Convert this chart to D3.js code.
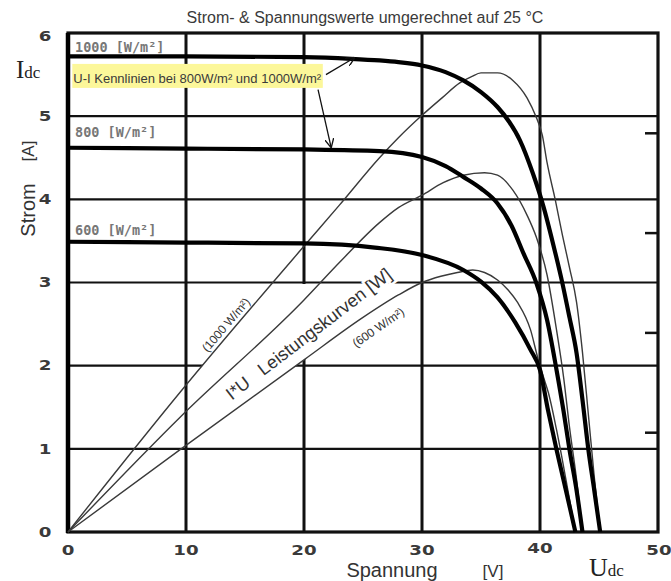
<!DOCTYPE html>
<html>
<head>
<meta charset="utf-8">
<script src="https://cdn.jsdelivr.net/npm/d3@7"></script>
<style>
body { margin: 0; background: #fff; }
</style>
</head>
<body>
<div id="chart"></div>
<script>
// tick values
var uTicks = [0, 10, 20, 30, 40, 50];
var iTicks = [0, 1, 2, 3, 4, 5, 6];
var pTicks = [40, 80, 120, 160];

// U-I Kennlinien [V, A]
var ui1000 = [[0,5.72],[10,5.72],[20,5.71],[24,5.69],[26.4,5.67],[28,5.65],[30,5.61],[32,5.53],[33.5,5.43],[35,5.29],[36.4,5.11],[37.4,4.93],[38.3,4.71],[39.4,4.31],[40.3,3.91],[41.1,3.47],[41.9,2.99],[42.5,2.58],[43.1,2.15],[43.6,1.59],[44.1,0.99],[44.6,0.5],[45.1,0]];
var ui800 = [[0,4.62],[10,4.61],[20,4.60],[26.4,4.58],[30,4.51],[32,4.40],[33.5,4.27],[35,4.13],[36.4,3.95],[37.6,3.68],[38.6,3.35],[39.7,2.99],[40.6,2.55],[41.4,1.95],[42,1.45],[42.5,0.99],[43.1,0.5],[43.6,0]];
var ui600 = [[0,3.49],[10,3.48],[20,3.47],[26,3.42],[30,3.33],[33.5,3.15],[35,3.01],[36.4,2.82],[37.9,2.52],[39.2,2.19],[40,1.95],[40.7,1.45],[41.4,0.99],[42.2,0.5],[43,0]];

// Leistungskurven [V, W]
var p1000 = [[0,0],[9.5,56],[19.9,114],[23,131],[26.4,150],[28,158],[30,167],[31.7,174],[33.2,180],[34.2,182.5],[35,184],[36.4,184],[37.7,181],[38.9,174],[39.7,166],[40.2,159],[40.6,148],[41.3,133],[41.9,119],[42.5,106],[43.1,92],[43.6,72],[44.1,47],[44.6,22],[45.1,0]];
var p800 = [[0,0],[9.5,46],[20,93],[23,108],[26.4,124],[28,130],[30,135],[31.8,140],[33.5,143],[35.3,144],[36.4,143],[37.7,137],[38.9,127],[39.7,118],[40.6,103],[41.4,81],[42,62],[42.5,42],[43.1,21],[43.6,0]];
var p600 = [[0,0],[9.5,33],[20,69],[25,86],[28,95],[30,100],[31.6,102.5],[33,104],[34.3,105],[35.3,104],[36.4,101],[37.3,97],[38.1,92],[39.2,81],[39.8,70],[40.3,62],[40.7,56],[41.4,41],[42.2,21],[43,0]];

var width = 671, height = 581;

var svg = d3.select("#chart").append("svg")
    .attr("width", width)
    .attr("height", height)
    .style("font-family", "'Liberation Sans', Arial, sans-serif");

var x = d3.scaleLinear().domain([0, 50]).range([68, 658]);
var y = d3.scaleLinear().domain([0, 6]).range([532, 33]);
var yP = d3.scaleLinear().domain([0, 200]).range([532, 33]);

// title
svg.append("text")
    .attr("x", 365).attr("y", 23)
    .attr("text-anchor", "middle")
    .style("font-size", "16px")
    .attr("fill", "#3a3a3a")
    .text("Strom- & Spannungswerte umgerechnet auf 25 °C");

// grid
svg.selectAll(".vgrid")
    .data(uTicks.slice(1, 5))
    .join("line")
    .attr("x1", function(d){ return x(d); }).attr("x2", function(d){ return x(d); })
    .attr("y1", y(0)).attr("y2", y(6))
    .attr("stroke", "#111").attr("stroke-width", 3);

svg.selectAll(".hgrid")
    .data(iTicks.slice(1, 6))
    .join("line")
    .attr("x1", x(0)).attr("x2", x(50))
    .attr("y1", function(d){ return y(d); }).attr("y2", function(d){ return y(d); })
    .attr("stroke", "#111").attr("stroke-width", 2.2);

// frame
svg.append("rect")
    .attr("x", x(0)).attr("y", y(6))
    .attr("width", x(50) - x(0)).attr("height", y(0) - y(6))
    .attr("fill", "none").attr("stroke", "#111").attr("stroke-width", 3.2);
svg.append("line")
    .attr("x1", x(0)).attr("x2", x(0)).attr("y1", y(6)).attr("y2", y(0) + 1)
    .attr("stroke", "#000").attr("stroke-width", 4.5);

// right power ticks
svg.append("g")
    .attr("transform", "translate(" + x(50) + ",0)")
    .call(d3.axisLeft(yP).tickValues(pTicks).tickSize(13).tickFormat(""))
    .call(function(g){ g.select(".domain").remove(); })
    .selectAll("line").attr("stroke", "#111").attr("stroke-width", 2.5);

// erase grid behind the power-curve labels
var clip = svg.append("clipPath").attr("id", "band");
clip.append("rect")
    .attr("x", x(0)).attr("y", y(3) + 1.5)
    .attr("width", x(30) - x(0)).attr("height", y(1.9) - y(3) - 1.5);

var bandLine = d3.line()
    .x(function(d){ return x(d[0]); })
    .y(function(d){ return yP(d[1]); });
var bandPts = p1000.filter(function(d){ return d[0] <= 30; })
    .concat(p600.filter(function(d){ return d[0] <= 30; }).reverse());
svg.append("path")
    .attr("d", bandLine(bandPts) + "Z")
    .attr("fill", "#fff")
    .attr("clip-path", "url(#band)");

// rotated labels on the power curves
function rotLabel(u, i, ang, size, txt){
    svg.append("text")
        .attr("transform", "translate(" + x(u) + "," + y(i) + ") rotate(" + ang + ")")
        .attr("text-anchor", "middle")
        .attr("dominant-baseline", "central")
        .style("font-size", size + "px")
        .style("white-space", "pre")
        .attr("fill", "#333")
        .attr("stroke", "#fff").attr("stroke-width", 5)
        .attr("paint-order", "stroke")
        .text(txt);
}
rotLabel(13.4, 2.49, -49.5, 12, "(1000 W/m²)");
rotLabel(20.4, 2.38, -37.5, 18, "I*U   Leistungskurven [W]");
rotLabel(26.3, 2.46, -34.5, 12, "(600 W/m²)");

// power curves
var pLine = d3.line()
    .curve(d3.curveMonotoneX)
    .x(function(d){ return x(d[0]); })
    .y(function(d){ return yP(d[1]); });

svg.selectAll(".pcurve")
    .data([p1000, p800, p600])
    .join("path")
    .attr("d", pLine)
    .attr("fill", "none")
    .attr("stroke", "#3a3a3a")
    .attr("stroke-width", 1.4);

// U-I curves
var uiLine = d3.line()
    .curve(d3.curveMonotoneX)
    .x(function(d){ return x(d[0]); })
    .y(function(d){ return y(d[1]); });

svg.selectAll(".uicurve")
    .data([ui1000, ui800, ui600])
    .join("path")
    .attr("d", uiLine)
    .attr("fill", "none")
    .attr("stroke", "#000")
    .attr("stroke-width", 4.2);

// tick labels
function tickText(px, py, txt){
    svg.append("text")
        .attr("transform", "translate(" + px + "," + py + ") scale(1.3,1)")
        .attr("text-anchor", "middle")
        .attr("dominant-baseline", "central")
        .style("font-family", "'DejaVu Sans', sans-serif")
        .style("font-weight", "bold")
        .style("font-size", "14px")
        .attr("fill", "#3a3a3a")
        .text(txt);
}
iTicks.forEach(function(d){ tickText(45, y(d) + (d == 6 ? 3 : 0), d); });
uTicks.forEach(function(d){ tickText(x(d) + (d == 50 ? 1 : 0), 550 - (d == 40 ? 2 : 0), d); });

// irradiance labels
var irrLabels = [["1000 [W/m²]", 5.77], ["800 [W/m²]", 4.75], ["600 [W/m²]", 3.57]];
svg.selectAll(".irr")
    .data(irrLabels)
    .join("text")
    .attr("x", x(0.6))
    .attr("y", function(d){ return y(d[1]); })
    .style("font-family", "'DejaVu Sans Mono', monospace")
    .style("font-weight", "bold")
    .style("font-size", "13.5px")
    .attr("fill", "#777")
    .text(function(d){ return d[0]; });

// highlighted note
var note = svg.append("g");
var noteText = note.append("text")
    .attr("x", x(0.45)).attr("y", y(5.40))
    .style("font-size", "13px")
    .attr("fill", "#3a3a3a")
    .text("U-I Kennlinien bei 800W/m² und 1000W/m²");
var bb = noteText.node().getBBox();
note.insert("rect", "text")
    .attr("x", bb.x - 1).attr("y", y(5.40) - 19)
    .attr("width", bb.width + 2).attr("height", 24)
    .attr("fill", "#fcf79a");

// arrows
svg.append("defs").append("marker")
    .attr("id", "arr")
    .attr("viewBox", "0 0 10 10")
    .attr("refX", 9).attr("refY", 5)
    .attr("markerWidth", 9).attr("markerHeight", 9)
    .attr("markerUnits", "userSpaceOnUse")
    .attr("orient", "auto")
    .append("path")
    .attr("d", "M0,0 L10,5 L0,10")
    .attr("fill", "none").attr("stroke", "#111").attr("stroke-width", 1.5);

var arrows = [[[21.86, 5.50], [24.24, 5.70]], [[21.19, 5.32], [22.29, 4.63]]];
svg.selectAll(".arrow")
    .data(arrows)
    .join("line")
    .attr("x1", function(d){ return x(d[0][0]); }).attr("y1", function(d){ return y(d[0][1]); })
    .attr("x2", function(d){ return x(d[1][0]); }).attr("y2", function(d){ return y(d[1][1]); })
    .attr("stroke", "#111").attr("stroke-width", 1.3)
    .attr("marker-end", "url(#arr)");

// axis titles
svg.append("text")
    .attr("transform", "translate(28,210) rotate(-90)")
    .attr("text-anchor", "middle").attr("dominant-baseline", "central")
    .style("font-size", "20px").attr("fill", "#333")
    .text("Strom");
svg.append("text")
    .attr("transform", "translate(28,151) rotate(-90)")
    .attr("text-anchor", "middle").attr("dominant-baseline", "central")
    .style("font-size", "17px").attr("fill", "#333")
    .text("[A]");

svg.append("text")
    .attr("x", 392).attr("y", 577)
    .attr("text-anchor", "middle")
    .style("font-size", "20px").attr("fill", "#333")
    .text("Spannung");
svg.append("text")
    .attr("x", 493).attr("y", 577)
    .attr("text-anchor", "middle")
    .style("font-size", "17px").attr("fill", "#333")
    .text("[V]");

// I_dc / U_dc
var idc = svg.append("text")
    .attr("x", 16).attr("y", 78)
    .style("font-family", "'Liberation Serif', 'DejaVu Serif', serif")
    .attr("fill", "#222");
idc.append("tspan").style("font-size", "25px").text("I");
idc.append("tspan").style("font-size", "17px").text("dc");

var udc = svg.append("text")
    .attr("x", 589).attr("y", 576)
    .style("font-family", "'Liberation Serif', 'DejaVu Serif', serif")
    .attr("fill", "#222");
udc.append("tspan").style("font-size", "26px").text("U");
udc.append("tspan").style("font-size", "17px").text("dc");
</script>
</body>
</html>
